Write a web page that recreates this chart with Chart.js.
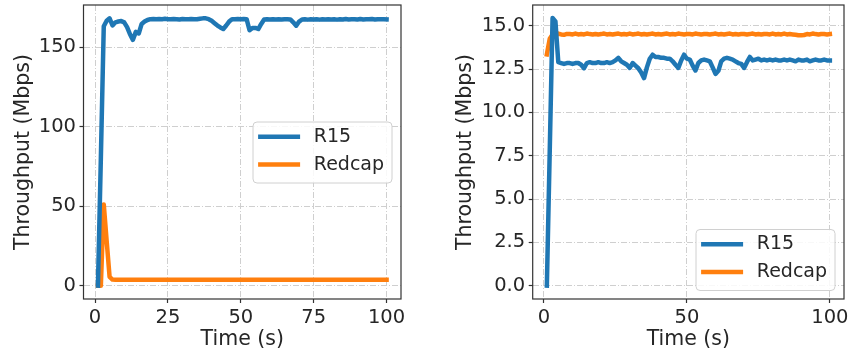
<!DOCTYPE html>
<html>
<head>
<meta charset="utf-8">
<script src="https://cdn.jsdelivr.net/npm/chart.js@4.4.1/dist/chart.umd.min.js"></script>
<style>
  body { margin: 0; background: #fff; }
  #wrap { position: relative; width: 850px; height: 353px; }
  canvas { position: absolute; top: 0; }
</style>
</head>
<body>
<div id="wrap">
  <canvas id="leftChart" width="425" height="353" style="left:0"></canvas>
  <canvas id="rightChart" width="425" height="353" style="left:425px"></canvas>
</div>
<script>
// time axis (s)
const time = [1, 2, 3, 4, 5, 6, 7, 8, 9, 10, 11, 12, 13, 14, 15, 16, 17, 18, 19, 20,
  21, 22, 23, 24, 25, 26, 27, 28, 29, 30, 31, 32, 33, 34, 35, 36, 37, 38, 39, 40,
  41, 42, 43, 44, 45, 46, 47, 48, 49, 50, 51, 52, 53, 54, 55, 56, 57, 58, 59, 60,
  61, 62, 63, 64, 65, 66, 67, 68, 69, 70, 71, 72, 73, 74, 75, 76, 77, 78, 79, 80,
  81, 82, 83, 84, 85, 86, 87, 88, 89, 90, 91, 92, 93, 94, 95, 96, 97, 98, 99, 100];

const seriesNames = ["R15", "Redcap"];
const xTicksLeft = [0, 25, 50, 75, 100];
const xTicksRight = [0, 50, 100];

// left panel - throughput (Mbps)
const r15Left = [0, 80, 163, 166.5, 168, 163.5, 165.5, 166, 166.3, 165.5,
  162.5, 158, 154.5, 159.5, 158.5, 164.5, 166, 167, 167.5, 167.6,
  167.4, 167.6, 167.5, 167.7, 167.5, 167.4, 167.6, 167.5, 167.3, 167.6,
  167.5, 167.4, 167.6, 167.5, 167.4, 167.8, 168, 168, 167.5, 166.5,
  165, 163.5, 162.3, 161.3, 163.5, 166, 167.5, 167.5, 167.6, 167.5,
  167.6, 167.5, 160.5, 162, 162, 161.3, 164.5, 167.3, 167.4, 167.3,
  167.5, 167.3, 167.4, 167.3, 167.5, 167.4, 167.3, 165.5, 163.4, 166,
  167.3, 167.4, 167.2, 167.4, 167.3, 167.5, 167.2, 167.4, 167.3, 167.5,
  167.3, 167.4, 167.2, 167.5, 167.3, 167.6, 167.3, 167.4, 167.5, 167.3,
  167.6, 167.3, 167.5, 167.4, 167.6, 167.3, 167.5, 167.4, 167.5, 167.4];
const redcapLeft = [0, 0, 51, 28, 5.5, 3.8, 3.7, 3.7, 3.7, 3.7,
  3.7, 3.7, 3.7, 3.7, 3.7, 3.7, 3.7, 3.7, 3.7, 3.7,
  3.7, 3.7, 3.7, 3.7, 3.7, 3.7, 3.7, 3.7, 3.7, 3.7,
  3.7, 3.7, 3.7, 3.7, 3.7, 3.7, 3.7, 3.7, 3.7, 3.7,
  3.7, 3.7, 3.7, 3.7, 3.7, 3.7, 3.7, 3.7, 3.7, 3.7,
  3.7, 3.7, 3.7, 3.7, 3.7, 3.7, 3.7, 3.7, 3.7, 3.7,
  3.7, 3.7, 3.7, 3.7, 3.7, 3.7, 3.7, 3.7, 3.7, 3.7,
  3.7, 3.7, 3.7, 3.7, 3.7, 3.7, 3.7, 3.7, 3.7, 3.7,
  3.7, 3.7, 3.7, 3.7, 3.7, 3.7, 3.7, 3.7, 3.7, 3.7,
  3.7, 3.7, 3.7, 3.7, 3.7, 3.7, 3.7, 3.7, 3.7, 3.7];

// right panel - throughput (Mbps)
const r15Right = [0, 7.7, 15.45, 15.25, 12.9, 12.85, 12.8, 12.85, 12.85, 12.8,
  12.85, 12.85, 12.75, 12.55, 12.85, 12.9, 12.85, 12.85, 12.9, 12.85,
  12.85, 12.9, 12.85, 12.9, 13.0, 13.15, 12.95, 12.85, 12.75, 12.57,
  12.85, 12.7, 12.55, 12.3, 11.98, 12.6, 13.1, 13.33, 13.2, 13.2,
  13.15, 13.15, 13.1, 13.1, 12.95, 12.75, 12.57, 13.0, 13.33, 13.1,
  13.05, 12.7, 12.42, 12.85, 13.0, 13.05, 13.0, 12.95, 12.6, 12.22,
  12.4, 12.95, 13.1, 13.15, 13.1, 13.05, 12.95, 12.85, 12.8, 12.57,
  12.9, 13.2, 13.0, 13.05, 13.1, 13.0, 13.05, 13.0, 13.05, 13.0,
  13.05, 13.0, 13.0, 13.05, 13.0, 13.05, 13.0, 12.95, 13.05, 13.0,
  13.0, 13.05, 12.95, 13.0, 13.05, 13.0, 13.0, 13.05, 13.0, 13.0];
const redcapRight = [13.35, 14.25, 14.5, 14.45, 14.55, 14.5, 14.48, 14.53, 14.52, 14.5,
  14.55, 14.5, 14.52, 14.5, 14.55, 14.52, 14.5, 14.53, 14.5, 14.52,
  14.55, 14.5, 14.52, 14.5, 14.53, 14.55, 14.5, 14.52, 14.5, 14.55,
  14.5, 14.52, 14.55, 14.5, 14.53, 14.5, 14.52, 14.55, 14.5, 14.52,
  14.5, 14.53, 14.55, 14.5, 14.52, 14.5, 14.55, 14.52, 14.5, 14.53,
  14.52, 14.5, 14.55, 14.52, 14.5, 14.52, 14.53, 14.5, 14.52, 14.55,
  14.5, 14.52, 14.5, 14.53, 14.55, 14.5, 14.52, 14.5, 14.52, 14.53,
  14.5, 14.52, 14.55, 14.5, 14.52, 14.5, 14.53, 14.52, 14.5, 14.55,
  14.5, 14.52, 14.5, 14.55, 14.5, 14.52, 14.5, 14.48, 14.45, 14.45,
  14.47, 14.52, 14.5, 14.55, 14.52, 14.5, 14.53, 14.52, 14.5, 14.52];

const colors = ["#1f77b4", "#ff7f0e"];

Chart.defaults.font.family = "'DejaVu Sans', sans-serif";
Chart.defaults.color = "#262626";

// box around the plot, like matplotlib spines
const spines = {
  id: "spines",
  afterDatasetsDraw(chart) {
    const a = chart.chartArea;
    const ctx = chart.ctx;
    ctx.save();
    ctx.strokeStyle = "#333";
    ctx.lineWidth = 1.2;
    ctx.strokeRect(a.left, a.top, a.right - a.left, a.bottom - a.top);
    ctx.restore();
  }
};

// legend drawn inside the axes
const boxLegend = {
  id: "boxLegend",
  afterDraw(chart, args, opts) {
    const a = chart.chartArea;
    const ctx = chart.ctx;
    const w = 139, h = 61;
    const x = a.right - 9.5 - w;
    const y = opts.loc === "lower right" ? a.bottom - 9 - h : (a.top + a.bottom) / 2 - h / 2;
    ctx.save();
    ctx.fillStyle = "rgba(255,255,255,0.85)";
    ctx.strokeStyle = "#d0d0d0";
    ctx.lineWidth = 1;
    ctx.beginPath();
    ctx.roundRect(x + 0.5, y + 0.5, w, h, 4);
    ctx.fill();
    ctx.stroke();
    ctx.font = "19px 'DejaVu Sans'";
    ctx.textBaseline = "middle";
    chart.data.datasets.forEach((ds, i) => {
      const ly = y + 15.3 + i * 27.8;
      ctx.strokeStyle = ds.borderColor;
      ctx.lineWidth = 4.5;
      ctx.beginPath();
      ctx.moveTo(x + 5.6, ly);
      ctx.lineTo(x + 47.6, ly);
      ctx.stroke();
      ctx.fillStyle = "#262626";
      ctx.fillText(ds.label, x + 61.3, ly);
    });
    ctx.restore();
  }
};

function toPoints(vals) {
  return time.map((t, i) => ({ x: t, y: vals[i] }));
}

function makeChart(id, series, cfg) {
  const grid = { color: "#cfcfcf", lineWidth: 1, tickLength: 4, tickColor: "#333", tickWidth: 1.2 };
  return new Chart(document.getElementById(id), {
    type: "line",
    data: {
      datasets: series.map((vals, i) => ({
        label: seriesNames[i],
        data: toPoints(vals),
        borderColor: colors[i],
        backgroundColor: colors[i],
        borderWidth: 4.5,
        pointRadius: 0,
        tension: 0,
        borderJoinStyle: "round",
        borderCapStyle: "square"
      }))
    },
    options: {
      responsive: false,
      animation: false,
      layout: { padding: cfg.padding },
      plugins: {
        legend: { display: false },
        tooltip: { enabled: false },
        boxLegend: { loc: cfg.legendLoc }
      },
      scales: {
        x: {
          type: "linear",
          min: -3.95,
          max: 104.95,
          afterFit: s => { s.height = 54; s.paddingLeft = 0; s.paddingRight = 0; },
          afterBuildTicks: s => { s.ticks = cfg.xTicks.map(v => ({ value: v })); },
          ticks: { font: { size: 19.5 }, padding: 3, maxRotation: 0 },
          grid: grid,
          border: { display: false, dash: [6, 2, 1, 2] },
          title: { display: true, text: "Time (s)", font: { size: 20.5 }, padding: { top: 0, bottom: 0.6 } }
        },
        y: {
          min: cfg.yMin,
          max: cfg.yMax,
          afterFit: s => { s.width = cfg.yWidth; s.paddingTop = 0; s.paddingBottom = 0; },
          afterBuildTicks: s => { s.ticks = cfg.yTicks.map(v => ({ value: v })); },
          ticks: { font: { size: 19.5 }, padding: 3.5, callback: cfg.yFmt },
          grid: grid,
          border: { display: false, dash: [6, 2, 1, 2] },
          title: { display: true, text: "Throughput (Mbps)", font: { size: 20.5 }, padding: { top: cfg.titlePad, bottom: 0 } }
        }
      }
    },
    plugins: [spines, boxLegend]
  });
}

makeChart("leftChart", [r15Left, redcapLeft], {
  padding: { left: 0, right: 24, top: 5, bottom: 0 },
  xTicks: xTicksLeft,
  yTicks: [0, 50, 100, 150],
  yMin: -8.4, yMax: 176.4,
  yWidth: 83.5,
  titlePad: 11.6,
  yFmt: v => String(v),
  legendLoc: "center right"
});

makeChart("rightChart", [r15Right, redcapRight], {
  padding: { left: 0, right: 6, top: 5, bottom: 0 },
  xTicks: xTicksRight,
  yTicks: [0, 2.5, 5, 7.5, 10, 12.5, 15],
  yMin: -0.77, yMax: 16.2,
  yWidth: 107.7,
  titlePad: 28.6,
  yFmt: v => v.toFixed(1),
  legendLoc: "lower right"
});
</script>
</body>
</html>
